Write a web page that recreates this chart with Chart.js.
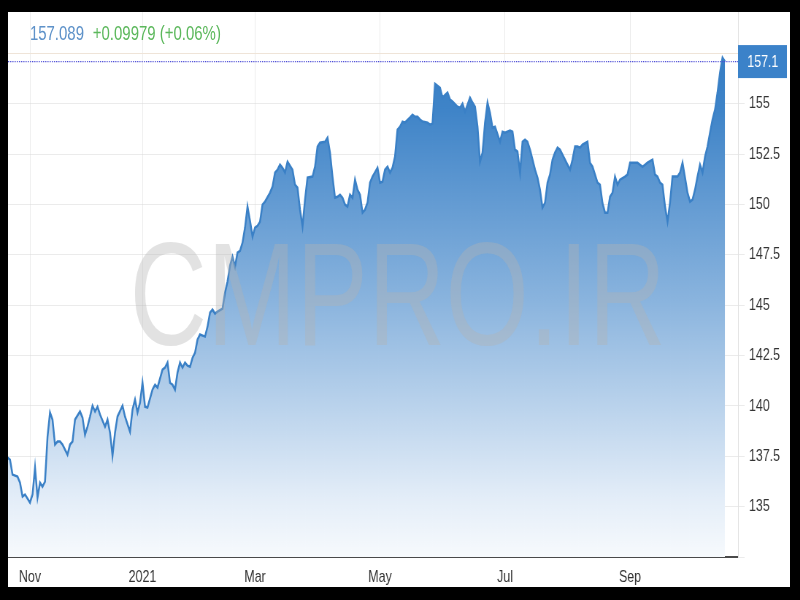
<!DOCTYPE html>
<html lang="en">
<head>
    <meta charset="UTF-8">
    <title>GBP/JPY</title>
    <style>
        body {
            margin: 0;
            background-color: #000;
            font-family: "Liberation Sans", Arial, sans-serif;
        }

        /* white picture area inside the black frame */
        #frame {
            position: absolute;
            left: 8px;
            top: 12px;
            width: 782px;
            height: 575px;
            background: #fff;
            overflow: hidden;
        }

        /* the source picture is squeezed horizontally, so draw wide and squeeze */
        #inner {
            position: absolute;
            left: 0;
            top: 0;
            width: 1071px;
            height: 575px;
            transform: scaleX(0.73);
            transform-origin: 0 0;
        }

        #header {
            position: absolute;
            left: 30px;
            top: 10px;
            font-size: 20.5px;
            line-height: 21px;
            white-space: nowrap;
            z-index: 2;
        }

        #price { color: #5e92c9; }
        #change { color: #5cb85c; margin-left: 12px; }
    </style>
    <script src="https://cdn.jsdelivr.net/npm/chart.js"></script>
</head>
<body>
    <div id="frame">
        <div id="inner">
            <div id="header"><span id="price"></span><span id="change"></span></div>
            <canvas id="rateChart" width="1071" height="575"></canvas>
        </div>
    </div>

    <script>
        // trading session index and closing rate
        const sessions = [
            -1, 0, 1, 3, 4, 5, 6, 8, 9, 10,
            11, 12, 13, 14, 15, 16, 17, 18, 19, 20,
            21, 23, 24, 25, 26, 28, 29, 30, 31, 32,
            33, 34, 35, 36, 38, 39, 40, 41, 42, 43,
            45, 46, 48, 49, 50, 51, 52, 53, 54, 55,
            57, 58, 59, 61, 62, 63, 64, 65, 66, 67,
            68, 69, 70, 71, 72, 73, 74, 75, 76, 78,
            79, 80, 81, 82, 83, 85, 86, 87, 88, 89,
            90, 91, 92, 93, 94, 95, 96, 97, 98, 99,
            100, 101, 102, 104, 105, 106, 107, 108, 109, 110,
            111, 113, 114, 115, 116, 117, 118, 119, 121, 122,
            123, 124, 126, 127, 128, 129, 130, 131, 132, 133,
            134, 135, 136, 137, 138, 139, 140, 141, 142, 143,
            144, 145, 147, 148, 149, 150, 151, 152, 153, 154,
            155, 156, 157, 158, 160, 161, 162, 163, 164, 165,
            167, 168, 169, 170, 171, 172, 173, 175, 176, 177,
            179, 180, 181, 182, 184, 185, 186, 187, 188, 189,
            190, 191, 192, 193, 194, 196, 197, 198, 200, 201,
            202, 203, 204, 205, 206, 207, 208, 209, 210, 211,
            212, 213, 214, 215, 216, 217, 218, 219, 220, 221,
            223, 224, 225, 226, 227, 228, 229, 231, 232, 233,
            235, 236, 237, 238, 239, 240, 241, 242, 243, 244,
            246, 247, 248, 250, 251, 253, 254, 255, 257, 258,
            259, 260, 261, 262, 263, 264, 265, 267, 268, 269,
            270, 271, 272, 273, 274, 275, 276, 277, 278, 279,
            280, 281, 282, 283, 284, 285, 286
        ];

        const rates = [
            137.43, 137.33, 136.59, 136.49, 136.19, 135.50, 135.60, 135.20, 135.60, 136.94,
            135.45, 136.19, 135.99, 136.24, 138.47, 139.67, 139.32, 138.08, 138.23, 138.23,
            138.08, 137.58, 138.08, 138.23, 139.32, 139.72, 139.42, 138.57, 138.97, 139.47,
            140.01, 139.72, 139.96, 139.57, 138.97, 139.32, 138.67, 137.53, 138.67, 139.47,
            140.01, 139.47, 138.72, 139.82, 140.31, 139.67, 140.16, 141.15, 139.96, 139.92,
            140.81, 141.05, 140.91, 141.80, 141.90, 142.15, 141.15, 141.05, 140.81, 141.65,
            142.15, 141.90, 142.15, 142.00, 141.95, 142.39, 142.64, 143.29, 143.54, 143.44,
            143.93, 144.63, 144.78, 144.58, 144.68, 144.83, 145.62, 146.17, 146.96, 147.41,
            146.91, 147.61, 147.70, 148.10, 148.85, 149.89, 149.19, 148.40, 148.85, 148.94,
            149.14, 149.99, 150.14, 150.58, 150.88, 151.58, 151.72, 151.97, 151.82, 151.58,
            152.12, 151.72, 150.98, 150.83, 149.74, 148.90, 150.24, 151.33, 151.38, 151.87,
            152.87, 153.06, 153.11, 153.31, 152.57, 151.38, 150.33, 150.38, 150.48, 150.33,
            149.99, 149.89, 150.48, 150.33, 151.23, 150.73, 150.48, 149.59, 149.74, 150.09,
            151.08, 151.38, 151.82, 151.08, 151.13, 151.72, 151.87, 151.58, 151.82, 152.37,
            153.71, 153.86, 154.11, 154.06, 154.31, 154.45, 154.35, 154.35, 154.21, 154.11,
            154.06, 153.96, 154.01, 155.99, 155.89, 155.79, 155.30, 155.55, 155.20, 155.10,
            154.85, 154.80, 155.00, 154.60, 155.30, 155.05, 154.85, 153.86, 152.12, 152.57,
            154.06, 155.05, 154.55, 153.81, 153.86, 153.11, 153.61, 153.56, 153.66, 153.61,
            152.72, 152.62, 151.58, 153.11, 153.21, 153.11, 152.72, 152.22, 151.72, 151.33,
            150.73, 149.84, 150.09, 151.08, 151.48, 152.22, 152.57, 152.82, 152.72, 152.47,
            151.97, 151.72, 152.22, 152.87, 152.87, 152.82, 152.97, 153.11, 152.07, 151.87,
            151.08, 150.98, 150.06, 149.59, 149.59, 150.38, 150.58, 151.38, 150.98, 151.23,
            151.38, 151.48, 152.07, 152.07, 152.07, 151.87, 151.97, 152.07, 152.22, 151.48,
            151.38, 151.08, 150.98, 149.89, 149.14, 150.09, 151.38, 151.38, 151.58, 152.07,
            151.33, 150.58, 150.14, 150.24, 150.73, 151.38, 151.97, 151.58, 152.37, 152.87,
            153.56, 154.21, 154.70, 155.55, 156.54, 157.28, 157.09
        ];

        // month ticks along the bottom (in session units)
        const monthTicks = [8, 53, 98, 148, 198, 248];
        const monthLabels = ['Nov', '2021', 'Mar', 'May', 'Jul', 'Sep'];

        // price grid; the outer two lines carry no label
        const priceTicks = [132.5, 135, 137.5, 140, 142.5, 145, 147.5, 150, 152.5, 155, 157.5];
        const hiddenPriceLabels = [132.5, 157.5];

        const lastPrice = 157.089;
        const priceChange = 0.09979;
        const changePct = 0.06;

        document.getElementById('price').innerText = lastPrice.toFixed(3);
        document.getElementById('change').innerText =
            '+' + priceChange.toFixed(5) + ' (+' + changePct.toFixed(2) + '%)';

        const points = sessions.map((s, i) => ({ x: s, y: rates[i] }));

        function fillGradient(context) {
            const chart = context.chart;
            const area = chart.chartArea;
            if (!area) return null;
            const g = chart.ctx.createLinearGradient(0, area.top, 0, area.bottom);
            g.addColorStop(0, '#2f78c2');
            g.addColorStop(0.18, '#3f84c8');
            g.addColorStop(0.53, '#8ab4de');
            g.addColorStop(0.89, '#e3edf8');
            g.addColorStop(1, '#f7fafd');
            return g;
        }

        const gridColor = 'rgba(215, 215, 215, 0.5)';
        const tickFont = { family: '"Liberation Sans", Arial, sans-serif', size: 17 };

        // watermark, dotted last-price line and price box
        const overlayPlugin = {
            id: 'overlay',
            afterDraw(chart) {
                const ctx = chart.ctx;
                const area = chart.chartArea;
                const y = chart.scales.y.getPixelForValue(lastPrice);

                ctx.save();
                ctx.font = '147px "Liberation Sans", Arial, sans-serif';
                ctx.fillStyle = 'rgba(180, 180, 180, 0.38)';
                ctx.textAlign = 'center';
                ctx.textBaseline = 'alphabetic';
                ctx.fillText('CMPRO.IR', 534, 333);

                ctx.strokeStyle = '#4b4bd6';
                ctx.lineWidth = 1.2;
                ctx.setLineDash([1.5, 1.5]);
                ctx.beginPath();
                ctx.moveTo(area.left, y);
                ctx.lineTo(area.right, y);
                ctx.stroke();
                ctx.setLineDash([]);

                ctx.fillStyle = '#3b82c9';
                ctx.fillRect(area.right, y - 16.5, 67, 33);
                ctx.fillStyle = '#fff';
                ctx.font = '17px "Liberation Sans", Arial, sans-serif';
                ctx.textBaseline = 'middle';
                ctx.fillText(lastPrice.toFixed(1), area.right + 34, y + 1);
                ctx.restore();
            }
        };

        new Chart(document.getElementById('rateChart'), {
            type: 'line',
            data: {
                datasets: [{
                    data: points,
                    borderColor: '#3a80c6',
                    borderWidth: 2.5,
                    pointRadius: 0,
                    tension: 0,
                    fill: 'start',
                    backgroundColor: fillGradient
                }]
            },
            options: {
                responsive: false,
                animation: false,
                devicePixelRatio: 1,
                layout: { padding: 0 },
                plugins: {
                    legend: { display: false },
                    tooltip: { enabled: false }
                },
                scales: {
                    x: {
                        type: 'linear',
                        min: -0.8,
                        max: 291.2,
                        z: 1,
                        afterBuildTicks: scale => {
                            scale.ticks = monthTicks.map(v => ({ value: v }));
                        },
                        afterFit: scale => {
                            scale.height = 30;
                            scale.paddingLeft = 0;
                            scale.paddingRight = 0;
                        },
                        ticks: {
                            autoSkip: false,
                            maxRotation: 0,
                            padding: 10,
                            color: '#333',
                            font: tickFont,
                            callback: value => monthLabels[monthTicks.indexOf(value)]
                        },
                        grid: {
                            color: gridColor,
                            drawTicks: false
                        },
                        border: { color: '#4a4a4a', width: 2 }
                    },
                    y: {
                        position: 'right',
                        min: 132.5,
                        max: 159.55,
                        z: 1,
                        afterBuildTicks: scale => {
                            scale.ticks = priceTicks.map(v => ({ value: v }));
                        },
                        afterFit: scale => {
                            scale.width = 71;
                            scale.paddingTop = 0;
                            scale.paddingBottom = 0;
                        },
                        ticks: {
                            padding: 6,
                            color: '#333',
                            font: tickFont,
                            callback: value => hiddenPriceLabels.includes(value) ? '' : String(value)
                        },
                        grid: {
                            tickLength: 9,
                            color: ctx => (ctx.tick && ctx.tick.value === 157.5) ? '#efe4d8' : gridColor
                        },
                        border: { color: '#e2e2e2' }
                    }
                }
            },
            plugins: [overlayPlugin]
        });
    </script>
</body>
</html>
